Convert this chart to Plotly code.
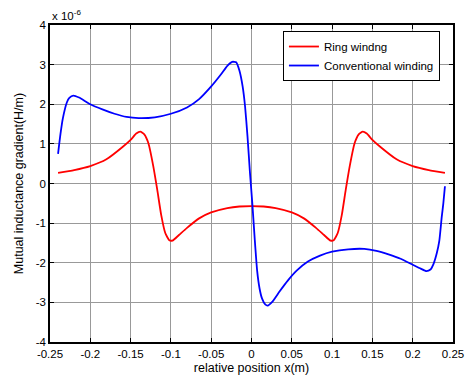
import plotly.graph_objects as go

# Ring winding (units of 1e-6 H/m)
ring_x = [-0.240, -0.220, -0.200, -0.180, -0.160, -0.150, -0.143, -0.138, -0.133, -0.128,
          -0.122, -0.117, -0.112, -0.107, -0.102, -0.098, -0.090, -0.080, -0.065, -0.050,
          -0.030, -0.015, 0.000, 0.015, 0.030, 0.050, 0.065, 0.080, 0.090, 0.098,
          0.102, 0.107, 0.112, 0.117, 0.122, 0.128, 0.133, 0.138, 0.143, 0.150,
          0.160, 0.180, 0.200, 0.220, 0.240]
ring_y = [0.27, 0.34, 0.44, 0.61, 0.92, 1.10, 1.26, 1.31, 1.24, 1.02,
          0.45, -0.15, -0.80, -1.25, -1.43, -1.44, -1.30, -1.12, -0.88, -0.73,
          -0.62, -0.58, -0.57, -0.58, -0.62, -0.73, -0.88, -1.12, -1.30, -1.44,
          -1.43, -1.25, -0.80, -0.15, 0.45, 1.02, 1.24, 1.31, 1.26, 1.10,
          0.92, 0.61, 0.44, 0.34, 0.27]

# Conventional winding (units of 1e-6 H/m)
conv_x = [-0.240, -0.237, -0.234, -0.229, -0.226, -0.221, -0.214, -0.200, -0.185, -0.170,
          -0.155, -0.140, -0.120, -0.100, -0.080, -0.065, -0.050, -0.038, -0.030, -0.024,
          -0.019, -0.015, -0.011, -0.008, -0.005, -0.002, 0.001, 0.004, 0.007, 0.010,
          0.013, 0.017, 0.020, 0.026, 0.035, 0.045, 0.056, 0.070, 0.085, 0.100,
          0.120, 0.140, 0.155, 0.170, 0.185, 0.200, 0.210, 0.217, 0.222, 0.226,
          0.230, 0.233, 0.236, 0.238, 0.240]
conv_y = [0.75, 1.25, 1.65, 2.05, 2.16, 2.22, 2.17, 2.00, 1.87, 1.76,
          1.68, 1.65, 1.67, 1.76, 1.92, 2.13, 2.45, 2.75, 2.97, 3.07,
          3.06, 2.85, 2.45, 1.95, 1.20, 0.30, -0.50, -1.40, -2.20, -2.65,
          -2.90, -3.05, -3.08, -2.98, -2.72, -2.45, -2.20, -1.97, -1.82, -1.72,
          -1.66, -1.65, -1.70, -1.79, -1.90, -2.05, -2.15, -2.21, -2.17, -2.02,
          -1.75, -1.45, -0.85, -0.50, -0.07]

x_ticks = [-0.25, -0.2, -0.15, -0.1, -0.05, 0, 0.05, 0.1, 0.15, 0.2, 0.25]
x_tick_labels = ["-0.25", "-0.2", "-0.15", "-0.1", "-0.05", "0", "0.05", "0.1", "0.15", "0.2", "0.25"]
y_ticks = [-4, -3, -2, -1, 0, 1, 2, 3, 4]
y_tick_labels = ["-4", "-3", "-2", "-1", "0", "1", "2", "3", "4"]

font = "Liberation Sans, Arial, sans-serif"

fig = go.Figure()
fig.add_trace(go.Scatter(x=ring_x, y=ring_y, mode="lines", name="Ring windng",
                         line=dict(color="#ff0000", width=1.8, shape="spline", smoothing=0.5)))
fig.add_trace(go.Scatter(x=conv_x, y=conv_y, mode="lines", name="Conventional winding",
                         line=dict(color="#0000ff", width=1.8, shape="spline", smoothing=0.5)))

axis_common = dict(showline=True, linecolor="black", linewidth=1.5, mirror="ticks",
                   ticks="inside", ticklen=4, tickcolor="black",
                   showgrid=True, gridcolor="#999999", gridwidth=1, zeroline=False,
                   tickfont=dict(family=font, size=11.5, color="black"))

fig.update_xaxes(range=[-0.25, 0.25], tickvals=x_ticks, ticktext=x_tick_labels,
                 title=dict(text="relative position x(m)", font=dict(family=font, size=12.5, color="black"), standoff=5),
                 **axis_common)
fig.update_yaxes(range=[-4, 4], tickvals=y_ticks, ticktext=y_tick_labels,
                 title=dict(text="Mutual inductance gradient(H/m)", font=dict(family=font, size=12.5, color="black"), standoff=9),
                 **axis_common)

fig.add_annotation(xref="paper", yref="paper", x=0, y=1, xanchor="left", yanchor="bottom",
                   yshift=1, text="x 10<sup>-6</sup>", showarrow=False,
                   font=dict(family=font, size=11.5, color="black"))

fig.update_layout(
    width=468, height=383,
    margin=dict(l=50, r=15, t=25, b=41, autoexpand=False),
    paper_bgcolor="white", plot_bgcolor="white",
    showlegend=True,
    legend=dict(x=0.578, y=0.981, xanchor="left", yanchor="top",
                bgcolor="white", bordercolor="black", borderwidth=1,
                font=dict(family=font, size=11.5, color="black"),
                tracegroupgap=0, itemwidth=30),
)

fig.write_html("out.html", config={"displayModeBar": False},
               post_script="document.body.style.margin='0';document.body.style.padding='0';")
